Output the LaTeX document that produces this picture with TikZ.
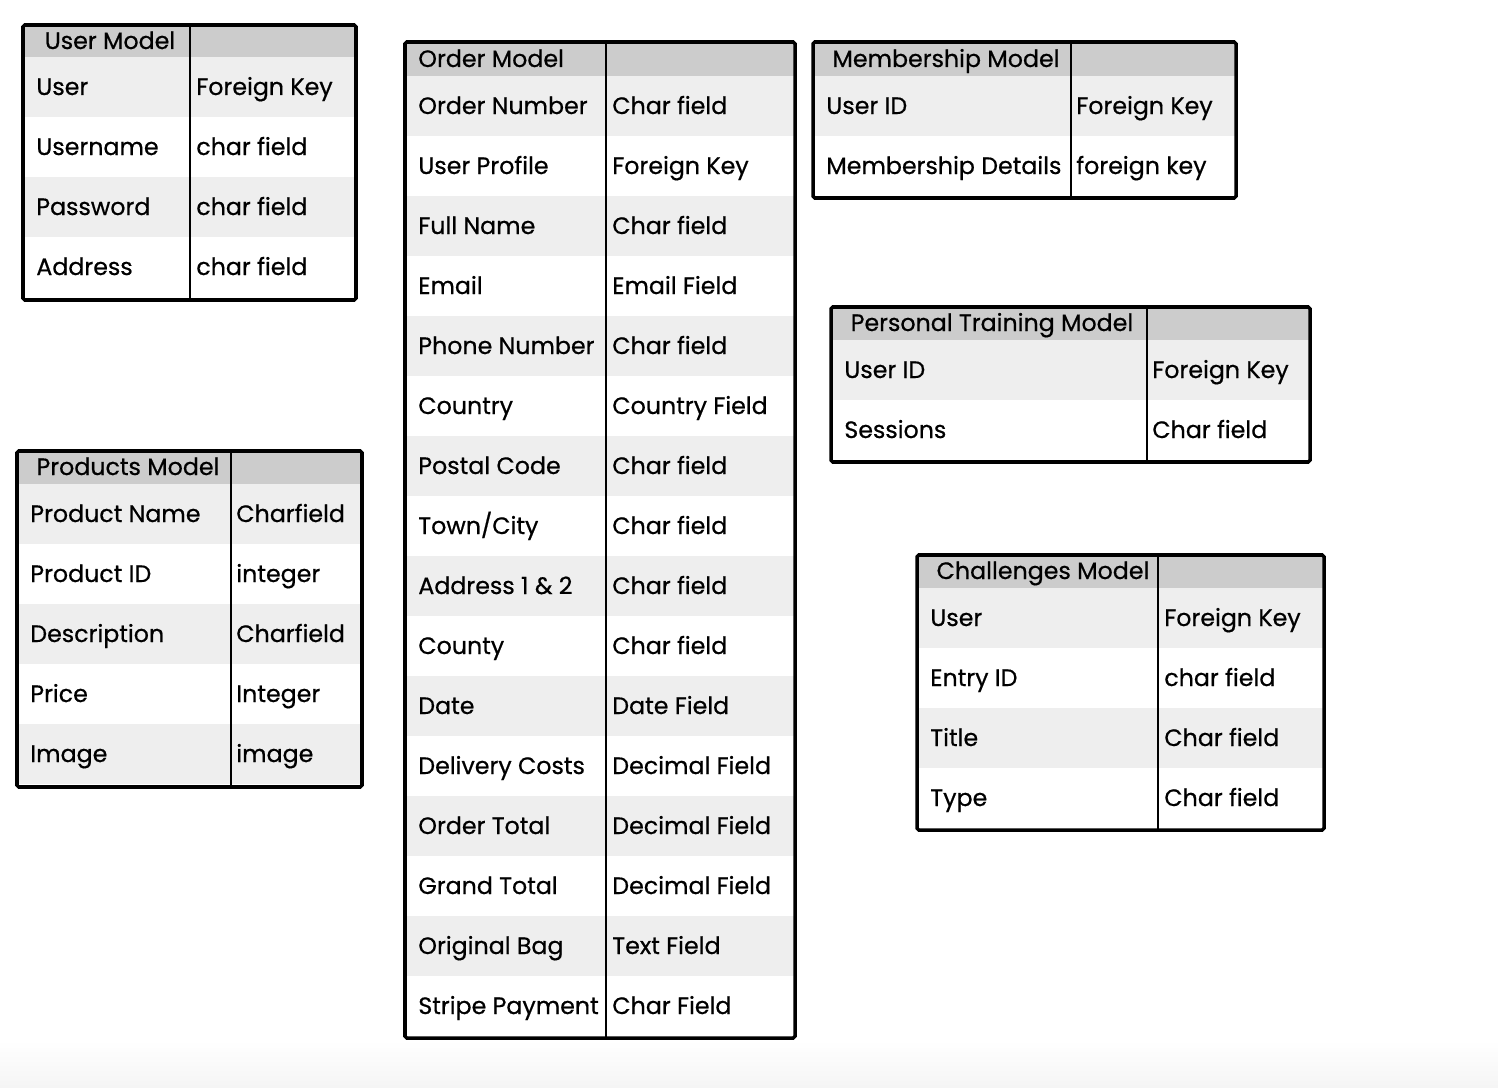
\documentclass[tikz,border=0pt]{standalone}
\usepackage{fontspec}
\setmainfont{Poppins}[FakeBold=0.6]
\usepackage{tikz}
\usetikzlibrary{positioning}
\definecolor{hdrgray}{HTML}{CCCCCC}
\definecolor{rowgray}{HTML}{EEEEEE}

\begin{document}
\begin{tikzpicture}[x=0.02cm, y=-0.02cm]
\tikzstyle{every node} = [inner sep=0cm, font=\fontsize{13.5}{16}\selectfont]
\tikzstyle{fld} = [anchor=base west]
\tikzstyle{ttl} = [anchor=base]
\tikzstyle{frame} = [line width=2pt, rounded corners=1pt]
\tikzstyle{divider} = [line width=1.6pt]
\useasboundingbox (0,0) rectangle (1498,1088);
\shade[top color=white, bottom color=black!4] (0,1040) rectangle (1498,1088);

% user model
\fill[hdrgray] (23,25) rectangle (356,57);
\node[ttl] (usr-title) at (110,49) {User Model};
\foreach \f/\t [count=\i] in {User/Foreign Key, Username/char field, Password/char field, Address/char field} {
	\ifodd\i \fill[rowgray] (23,-3+60*\i) rectangle (356,57+60*\i); \fi
	\node[fld] (usr-f\i) at (36,35+60*\i) {\f};
	\node[fld] (usr-t\i) at (196,35+60*\i) {\t};
}
\coordinate (usr-top) at (190,25);
\coordinate (usr-bot) at (190,300);
\draw[divider] (usr-top) -- (usr-bot);
\draw[frame] (23,25) rectangle (356,300);

% order model
\fill[hdrgray] (405,42) rectangle (795,76);
\node[fld] (ord-title) at (418,67) {Order Model};
\foreach \f/\t [count=\i] in {Order Number/Char field, User Profile/Foreign Key, Full Name/Char field,
	Email/Email Field, Phone Number/Char field, Country/Country Field, Postal Code/Char field,
	{Town/City}/Char field, Address 1 \& 2/Char field, County/Char field, Date/Date Field,
	Delivery Costs/Decimal Field, Order Total/Decimal Field, Grand Total/Decimal Field,
	Original Bag/Text Field, Stripe Payment/Char Field} {
	\ifodd\i \fill[rowgray] (405,16+60*\i) rectangle (795,76+60*\i); \fi
	\node[fld] (ord-f\i) at (418,54+60*\i) {\f};
	\node[fld] (ord-t\i) at (612,54+60*\i) {\t};
}
\coordinate (ord-top) at (606,42);
\coordinate (ord-bot) at (606,1038);
\draw[divider] (ord-top) -- (ord-bot);
\draw[frame] (405,42) rectangle (795,1038);

% membership model
\fill[hdrgray] (813,42) rectangle (1236,76);
\node[ttl] (mem-title) at (946,67) {Membership Model};
\foreach \f/\t [count=\i] in {User ID/Foreign Key, Membership Details/foreign key} {
	\ifodd\i \fill[rowgray] (813,16+60*\i) rectangle (1236,76+60*\i); \fi
	\node[fld] (mem-f\i) at (826,54+60*\i) {\f};
	\node[fld] (mem-t\i) at (1076,54+60*\i) {\t};
}
\coordinate (mem-top) at (1071,42);
\coordinate (mem-bot) at (1071,198);
\draw[divider] (mem-top) -- (mem-bot);
\draw[frame] (813,42) rectangle (1236,198);

% personal training model
\fill[hdrgray] (831,307) rectangle (1310,340);
\node[ttl] (pt-title) at (992,331) {Personal Training Model};
\foreach \f/\t [count=\i] in {User ID/Foreign Key, Sessions/Char field} {
	\ifodd\i \fill[rowgray] (831,280+60*\i) rectangle (1310,340+60*\i); \fi
	\node[fld] (pt-f\i) at (844,318+60*\i) {\f};
	\node[fld] (pt-t\i) at (1152,318+60*\i) {\t};
}
\coordinate (pt-top) at (1147,307);
\coordinate (pt-bot) at (1147,462);
\draw[divider] (pt-top) -- (pt-bot);
\draw[frame] (831,307) rectangle (1310,462);

% products model
\fill[hdrgray] (17,451) rectangle (362,484);
\node[ttl] (prd-title) at (128,475) {Products Model};
\foreach \f/\t [count=\i] in {Product Name/Charfield, Product ID/integer, Description/Charfield,
	Price/Integer, Image/image} {
	\ifodd\i \fill[rowgray] (17,424+60*\i) rectangle (362,484+60*\i); \fi
	\node[fld] (prd-f\i) at (30,462+60*\i) {\f};
	\node[fld] (prd-t\i) at (236,462+60*\i) {\t};
}
\coordinate (prd-top) at (231,451);
\coordinate (prd-bot) at (231,787);
\draw[divider] (prd-top) -- (prd-bot);
\draw[frame] (17,451) rectangle (362,787);

% challenges model
\fill[hdrgray] (917,555) rectangle (1324,588);
\node[ttl] (chl-title) at (1043,579) {Challenges Model};
\foreach \f/\t [count=\i] in {User/Foreign Key, Entry ID/char field, Title/Char field, Type/Char field} {
	\ifodd\i \fill[rowgray] (917,528+60*\i) rectangle (1324,588+60*\i); \fi
	\node[fld] (chl-f\i) at (930,566+60*\i) {\f};
	\node[fld] (chl-t\i) at (1164,566+60*\i) {\t};
}
\coordinate (chl-top) at (1158,555);
\coordinate (chl-bot) at (1158,830);
\draw[divider] (chl-top) -- (chl-bot);
\draw[frame] (917,555) rectangle (1324,830);
\end{tikzpicture}
\end{document}
